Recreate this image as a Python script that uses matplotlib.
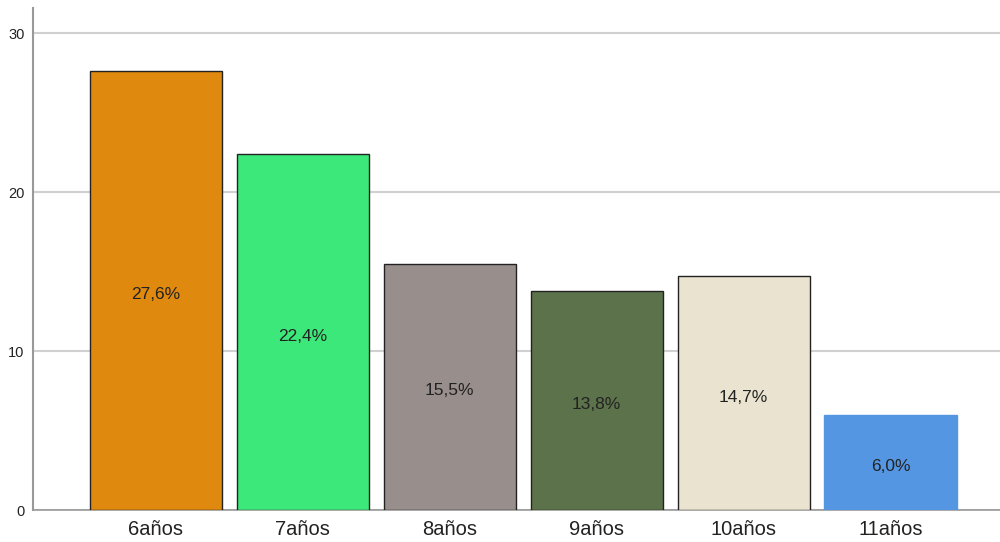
import matplotlib
matplotlib.use('Agg')
from matplotlib import pyplot as plt

plt.rcParams['font.family'] = ['Liberation Sans', 'DejaVu Sans']

categorias = ['6años', '7años', '8años', '9años', '10años', '11años']
porcentajes = [27.6, 22.4, 15.5, 13.8, 14.7, 6.0]
etiquetas = ['27,6%', '22,4%', '15,5%', '13,8%', '14,7%', '6,0%']
colores = ['#E0890F', '#3DE87A', '#988E8C', '#5B724A', '#E9E3CF', '#5596E3']
bordes = ['#222222'] * 5 + ['#5596E3']

fig = plt.figure(figsize=(10, 5.42), dpi=100)
ax = fig.add_axes([0.033, 0.059, 0.967, 0.926])

x = list(range(len(categorias)))
ax.bar(x, porcentajes, width=0.9, color=colores, edgecolor=bordes, linewidth=1, zorder=3)
for i, v in enumerate(porcentajes):
    # etiqueta en medio de la barra, un poco más abajo como en el original
    ax.annotate(etiquetas[i], (i, v / 2), xytext=(0, -3), textcoords='offset points',
                ha='center', va='center', fontsize=12.5, color='#222222', zorder=4)

ax.set_xlim(-0.837, 5.745)
ax.set_ylim(0, 31.57)
ax.set_yticks([0, 10, 20, 30])
ax.set_xticks(x)
ax.set_xticklabels(categorias, fontsize=14.5, color='#222222')
ax.tick_params(axis='y', length=0, labelsize=10.5, pad=6, colors='#222222')
ax.tick_params(axis='x', length=0, pad=7)
ax.grid(axis='y', color='#D0D0D0', linewidth=1.5, zorder=0)
for s in ['top', 'right']:
    ax.spines[s].set_visible(False)
ax.spines['left'].set_color('#999999')
ax.spines['bottom'].set_color('#999999')
ax.spines['left'].set_linewidth(1.5)
ax.spines['bottom'].set_linewidth(1.2)

plt.savefig('out.png', dpi=100)
